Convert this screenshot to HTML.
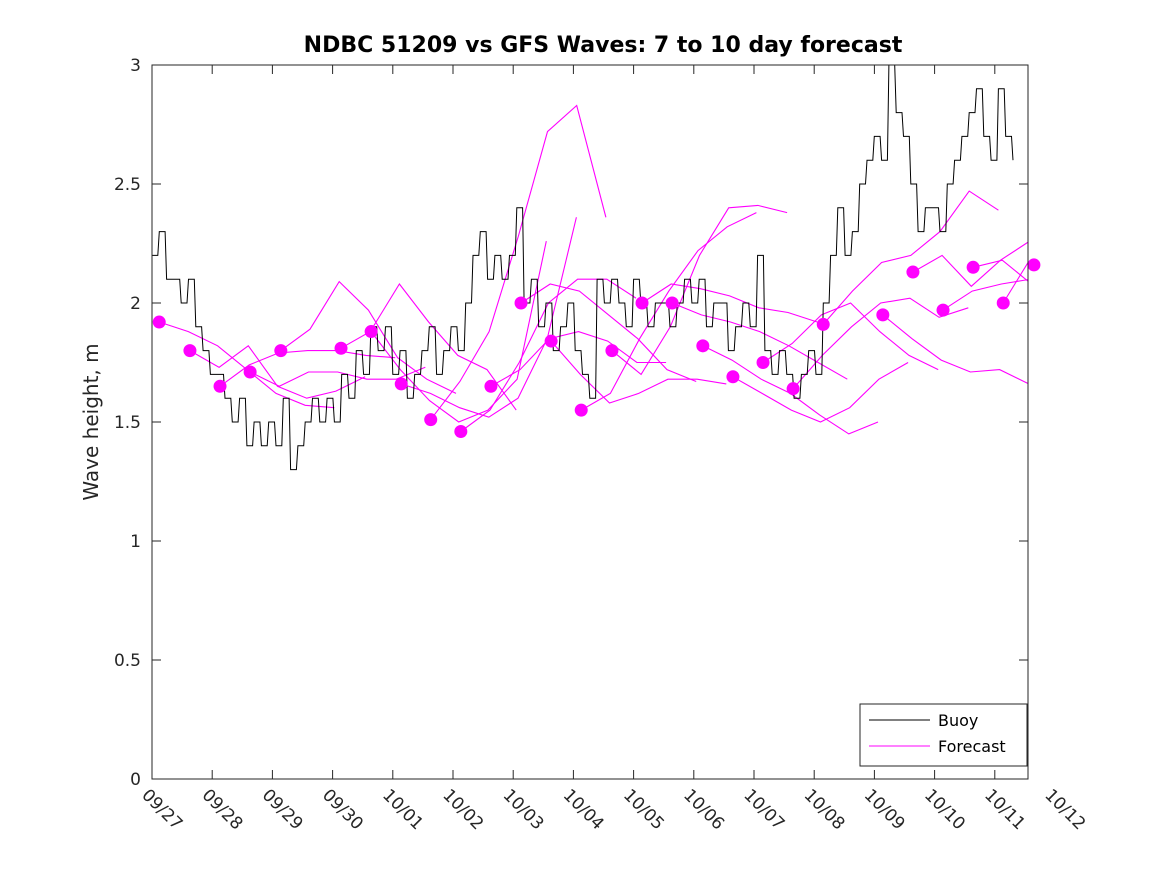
<!DOCTYPE html>
<html><head><meta charset="utf-8"><style>
html,body{margin:0;padding:0;background:#fff;}
svg{display:block;font-family:"DejaVu Sans","Liberation Sans",sans-serif;}
</style></head><body>
<svg id="chart" width="1167" height="875" viewBox="0 0 1167 875" xmlns="http://www.w3.org/2000/svg">
<rect width="1167" height="875" fill="#fff"/>
<text x="603" y="52" text-anchor="middle" font-size="22" font-weight="bold" fill="#000">NDBC 51209 vs GFS Waves: 7 to 10 day forecast</text>
<text transform="translate(98,422) rotate(-90)" text-anchor="middle" font-size="20" fill="#262626">Wave height, m</text>
<defs><clipPath id="plotclip"><rect x="152" y="65" width="876" height="714"/></clipPath></defs>
<g id="ticks"></g>
<g id="series" clip-path="url(#plotclip)"></g>
<g id="dots"></g>
<rect x="152" y="65" width="876" height="714" fill="none" stroke="#262626" stroke-width="1"/>
<g>
<rect x="860" y="704" width="167" height="62" fill="#fff" stroke="#262626" stroke-width="1"/>
<line x1="869" y1="720" x2="930" y2="720" stroke="#000" stroke-width="1"/>
<text x="938" y="726" font-size="16" fill="#000">Buoy</text>
<line x1="869" y1="746" x2="930" y2="746" stroke="#ff00ff" stroke-width="1"/>
<text x="938" y="752" font-size="16" fill="#000">Forecast</text>
</g>
</svg>
<script>
const xTickLabels = ["09/27","09/28","09/29","09/30","10/01","10/02","10/03","10/04","10/05","10/06","10/07","10/08","10/09","10/10","10/11","10/12"];
const yTicks = [0,0.5,1,1.5,2,2.5,3];
const yTickLabels = ["0","0.5","1","1.5","2","2.5","3"];
const buoyStartDay = 0;
const buoyStepDays = 0.1212;
const buoyValues = [2.2,2.3,2.1,2.1,2.0,2.1,1.9,1.8,1.7,1.7,1.6,1.5,1.6,1.4,1.5,1.4,1.5,1.4,1.6,1.3,1.4,1.5,1.6,1.5,1.6,1.5,1.7,1.6,1.8,1.7,1.9,1.8,1.9,1.7,1.8,1.6,1.7,1.8,1.9,1.7,1.8,1.9,1.8,2.0,2.2,2.3,2.1,2.2,2.1,2.2,2.4,2.0,2.1,1.9,2.0,1.8,1.9,2.0,1.8,1.7,1.6,2.1,2.0,2.1,2.0,1.9,2.1,2.0,1.9,2.0,2.0,1.9,2.0,2.1,2.0,2.1,1.9,2.0,2.0,1.8,1.9,2.0,1.9,2.2,1.8,1.7,1.8,1.7,1.6,1.7,1.8,1.7,2.0,2.2,2.4,2.2,2.3,2.5,2.6,2.7,2.6,3.0,2.8,2.7,2.5,2.3,2.4,2.4,2.3,2.5,2.6,2.7,2.8,2.9,2.7,2.6,2.9,2.7,2.6];
const forecastStepDays = 0.485;
const forecastStartDays = [0.12,0.63,1.13,1.63,2.14,3.14,3.64,4.14,4.63,5.13,5.63,6.13,6.63,7.13,7.64,8.14,8.64,9.15,9.65,10.15,10.65,11.15,12.14,12.64,13.14,13.64,14.14,14.65];
const forecastValues = [
 [1.92,1.88,1.82,1.72,1.62,1.57,1.56],
 [1.80,1.73,1.82,1.65,1.60,1.63,1.69],
 [1.65,1.74,1.79,1.80,1.80,1.78,1.77],
 [1.71,1.65,1.71,1.71,1.68,1.68,1.73],
 [1.80,1.89,2.09,1.97,1.77,1.68,1.62],
 [1.81,1.88,2.08,1.92,1.78,1.72,1.55],
 [1.88,1.72,1.59,1.50,1.55,1.68,2.26],
 [1.66,1.62,1.56,1.52,1.60,1.85,2.36],
 [1.51,1.67,1.88,2.28,2.72,2.83,2.36],
 [1.46,1.55,1.75,2.00,2.10,2.10,2.02],
 [1.65,1.72,1.85,1.88,1.84,1.75,1.75],
 [2.00,2.08,2.05,1.95,1.85,1.72,1.67],
 [1.84,1.70,1.58,1.62,1.68,1.68,1.66],
 [1.55,1.62,1.85,2.05,2.22,2.32,2.38],
 [1.80,1.70,1.90,2.20,2.40,2.41,2.38],
 [2.00,2.08,2.06,2.03,1.98,1.96,1.92],
 [2.00,1.95,1.92,1.88,1.82,1.75,1.68],
 [1.82,1.76,1.68,1.62,1.53,1.45,1.50],
 [1.69,1.62,1.55,1.50,1.56,1.68,1.75],
 [1.75,1.83,1.95,2.00,1.88,1.78,1.72],
 [1.64,1.78,1.90,2.00,2.02,1.94,1.98],
 [1.91,2.05,2.17,2.20,2.30,2.47,2.39],
 [1.95,1.85,1.76,1.71,1.72,1.66,1.72],
 [2.13,2.20,2.07,2.18,2.26,2.12,2.03],
 [1.97,2.05,2.08,2.10,2.12,2.05,2.01],
 [2.15,2.18,2.08,1.98,1.93,1.88,1.87],
 [2.00,2.20,2.35,2.25],
 [2.16,2.12,2.10]
];
const dotDays = forecastStartDays;
const dotValues = [1.92,1.80,1.65,1.71,1.80,1.81,1.88,1.66,1.51,1.46,1.65,2.00,1.84,1.55,1.80,2.00,2.00,1.82,1.69,1.75,1.64,1.91,1.95,2.13,1.97,2.15,2.00,2.16];

const X0 = 152, PXDAY = 60.2, YB = 779, PXM = 238;
function xs(d){ return X0 + d*PXDAY; }
function ys(v){ return YB - v*PXM; }
const NS = "http://www.w3.org/2000/svg";
function mk(tag, attrs, parent){ const e = document.createElementNS(NS, tag); for (const k in attrs) e.setAttribute(k, attrs[k]); parent.appendChild(e); return e; }

const ticks = document.getElementById('ticks');
yTicks.forEach((v,i)=>{
  const y = ys(v);
  const t1 = mk('line',{x1:152,y1:y,x2:161,y2:y,stroke:'#262626'},ticks);
  
  
  const t2 = mk('line',{x1:1019,y1:y,x2:1028,y2:y,stroke:'#262626'},ticks);
  
  
  const lb = mk('text',{x:141,y:y+6,'text-anchor':'end','font-size':17,fill:'#262626'},ticks);
  lb.textContent = yTickLabels[i];
  
  
});
xTickLabels.forEach((s,i)=>{
  const x = xs(i);
  if (x <= 1028) {
    const a = mk('line',{x1:x,y1:779,x2:x,y2:770,stroke:'#262626'},ticks);
    
    
    const b = mk('line',{x1:x,y1:65,x2:x,y2:74,stroke:'#262626'},ticks);
    
    
  }
  const lb = mk('text',{transform:`translate(${x-11},${796}) rotate(45)`,'font-size':17,fill:'#262626'},ticks);
  lb.textContent = s;
  
  
});

const series = document.getElementById('series');
forecastValues.forEach((vals,k)=>{
  const pts = vals.map((v,j)=> xs(forecastStartDays[k]+j*forecastStepDays).toFixed(1)+','+ys(v).toFixed(1)).join(' ');
  const p = mk('polyline',{points:pts,fill:'none',stroke:'#ff00ff','stroke-width':1.1},series);
  
  
});
let bp = [];
buoyValues.forEach((v,i)=>{
  const x0 = xs(buoyStartDay+i*buoyStepDays), x1 = xs(buoyStartDay+(i+1)*buoyStepDays)-1.5;
  bp.push(x0.toFixed(1)+','+ys(v).toFixed(1));
  if (i < buoyValues.length-1) bp.push(x1.toFixed(1)+','+ys(v).toFixed(1));
});
const bl = mk('polyline',{points:bp.join(' '),fill:'none',stroke:'#000','stroke-width':1},series);



const dots = document.getElementById('dots');
dotValues.forEach((v,i)=>{
  const c = mk('circle',{cx:xs(dotDays[i]),cy:ys(v),r:6.5,fill:'#ff00ff'},dots);
  
  
});
</script>
</body></html>
